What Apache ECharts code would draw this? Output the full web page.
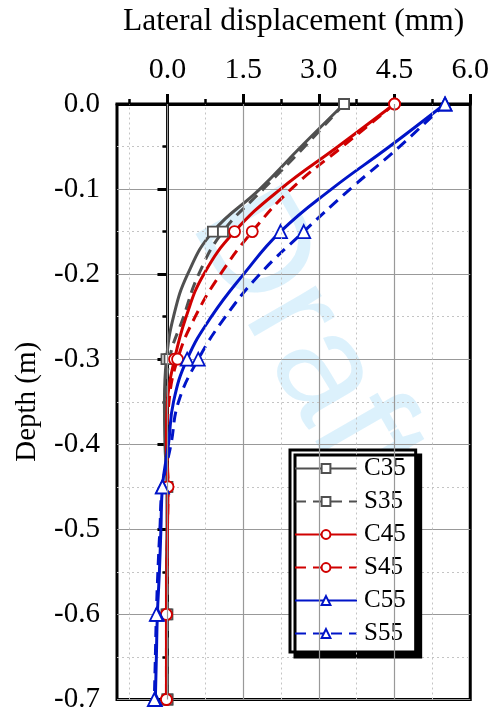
<!DOCTYPE html>
<html>
<head>
<meta charset="utf-8">
<script src="https://cdn.jsdelivr.net/npm/echarts@6/dist/echarts.min.js"></script>
<style>html,body{margin:0;padding:0;background:#fff;}#c{width:492px;height:714px;}</style>
</head>
<body>
<div id="c"></div>
<script>
// Depth positions (m)
const depths = [0, -0.05, -0.1, -0.15, -0.2, -0.25, -0.3, -0.35, -0.4, -0.45, -0.5, -0.55, -0.6, -0.65, -0.7];
// Depths where markers are drawn
const markerDepths = [0, -0.15, -0.3, -0.45, -0.6, -0.7];
// Lateral displacement (mm)
const C35 = [3.5, 2.65, 1.83, 0.9, 0.4, 0.12, -0.02, -0.06, -0.05, -0.01, -0.01, -0.02, -0.02, -0.01, 0.0];
const S35 = [3.5, 2.72, 1.9, 1.1, 0.62, 0.32, 0.04, -0.03, -0.03, 0.0, 0.0, 0.0, 0.0, 0.0, 0.0];
const C45 = [4.5, 3.38, 2.24, 1.33, 0.72, 0.37, 0.14, 0.0, -0.02, 0.01, 0.0, -0.01, -0.02, -0.02, -0.02];
const S45 = [4.5, 3.47, 2.45, 1.68, 1.05, 0.55, 0.2, 0.03, -0.01, 0.01, 0.0, -0.01, -0.02, -0.02, -0.02];
const C55 = [5.5, 4.4, 3.25, 2.24, 1.51, 0.87, 0.39, 0.12, 0.02, -0.1, -0.13, -0.16, -0.2, -0.22, -0.24];
const S55 = [5.5, 4.6, 3.62, 2.7, 1.83, 1.15, 0.61, 0.22, 0.07, -0.1, -0.15, -0.19, -0.22, -0.24, -0.26];
const seriesNames = ['C35', 'S35', 'C45', 'S45', 'C55', 'S55'];
const xMajorTicks = [0, 1.5, 3.0, 4.5, 6.0];
const xMinorTicks = [-0.75, 0.75, 2.25, 3.75, 5.25];
const xGridMajor = [0, 1.5, 3.0, 4.5];

const FONT = '"Liberation Serif", "Times New Roman", serif';
const GRAY = '#505050', RED = '#d00000', BLUE = '#0014c8';

function build(vals) {
  return vals.map((v, i) => {
    const d = depths[i];
    const mark = markerDepths.some(m => Math.abs(m - d) < 1e-9);
    return mark ? { value: [v, d] } : { value: [v, d], symbol: 'none' };
  });
}

const styles = {
  C35: { color: GRAY, symbol: 'rect', size: 10, dash: 'solid' },
  S35: { color: GRAY, symbol: 'rect', size: 10, dash: [11, 7] },
  C45: { color: RED, symbol: 'circle', size: 11, dash: 'solid' },
  S45: { color: RED, symbol: 'circle', size: 11, dash: [11, 7] },
  C55: { color: BLUE, symbol: 'triangle', size: 13, dash: 'solid' },
  S55: { color: BLUE, symbol: 'triangle', size: 13, dash: [11, 7] }
};
const dataMap = { C35, S35, C45, S45, C55, S55 };

const series = seriesNames.map(n => ({
  name: n,
  type: 'line',
  xAxisIndex: 0,
  smooth: 0.45,
  z: 3,
  symbol: styles[n].symbol,
  symbolSize: styles[n].size,
  showAllSymbol: true,
  lineStyle: { color: styles[n].color, width: 3, type: styles[n].dash },
  itemStyle: { color: '#fff', borderColor: styles[n].color, borderWidth: 1.8 },
  data: build(dataMap[n])
}));

series.unshift({
  name: 'grid-x',
  type: 'line',
  xAxisIndex: 0,
  data: [],
  silent: true,
  z: 1,
  markLine: {
    silent: true,
    symbol: ['none', 'none'],
    label: { show: false },
    animation: false,
    data: xGridMajor.map(v => ({ xAxis: v, lineStyle: { color: '#999', width: 1.2, type: 'solid' } }))
      .concat(xMinorTicks.map(v => ({ xAxis: v, lineStyle: { color: '#c4c4c4', width: 1, type: [2, 3] } })))
  }
});

const chart = echarts.init(document.getElementById('c'), null, { renderer: 'canvas' });
chart.setOption({
  animation: false,
  backgroundColor: '#fff',
  grid: { left: 117, right: 21, top: 104, bottom: 12, show: true, borderColor: '#000', borderWidth: 3, backgroundColor: 'transparent' },
  graphic: [{
    type: 'text', x: 305, y: 342, rotation: -60 * Math.PI / 180, z: 0,
    style: { text: 'Draft', font: '148px "Liberation Sans", Arial, sans-serif', fill: 'rgba(120,200,245,0.26)', align: 'center', verticalAlign: 'middle' }
  }],
  xAxis: [{
    type: 'value', position: 'top', min: -1, max: 6,
    name: 'Lateral displacement (mm)', nameLocation: 'middle', nameGap: 66,
    nameTextStyle: { fontFamily: FONT, fontSize: 31.5, color: '#000' },
    axisLine: { show: true, lineStyle: { color: '#000', width: 3 } },
    axisTick: { show: true, customValues: xMajorTicks, inside: false, length: 10, lineStyle: { color: '#000', width: 3 } },
    axisLabel: { show: true, customValues: xMajorTicks, margin: 19, fontFamily: FONT, fontSize: 30, color: '#000', formatter: v => Number(v).toFixed(1) },
    splitLine: { show: false }
  }, {
    type: 'value', position: 'top', min: -1, max: 6, gridIndex: 0,
    axisLine: { show: false },
    axisTick: { show: true, customValues: xMinorTicks, inside: false, length: 5, lineStyle: { color: '#000', width: 2.5 } },
    axisLabel: { show: false },
    splitLine: { show: false }
  }],
  yAxis: {
    type: 'value', min: -0.7, max: 0, interval: 0.1,
    name: 'Depth (m)', nameLocation: 'middle', nameGap: 75,
    nameTextStyle: { fontFamily: FONT, fontSize: 29, color: '#000' },
    axisLine: { show: true, lineStyle: { color: '#000', width: 3 } },
    axisTick: { show: true, inside: false, length: 10, lineStyle: { color: '#000', width: 3 } },
    minorTick: { show: true, splitNumber: 2, length: 5, lineStyle: { color: '#000', width: 2.5 } },
    axisLabel: { margin: 17, fontFamily: FONT, fontSize: 29, color: '#000', formatter: v => Number(v).toFixed(1) },
    splitLine: { show: true, lineStyle: { color: '#999', width: 1.2 } },
    minorSplitLine: { show: true, lineStyle: { color: '#c4c4c4', width: 1, type: [2, 3] } }
  },
  legend: {
    data: seriesNames,
    orient: 'vertical',
    left: 290, top: 450,
    itemWidth: 62, itemHeight: 11, itemGap: 8,
    padding: [6, 10, 6, 4],
    backgroundColor: '#fff',
    borderColor: '#000', borderWidth: 3, borderRadius: 0,
    shadowColor: '#000', shadowBlur: 0, shadowOffsetX: 5, shadowOffsetY: 5,
    textStyle: { fontFamily: FONT, fontSize: 25, color: '#000', padding: [0, 0, 0, 2] }
  },
  series: series
});
</script>
</body>
</html>
